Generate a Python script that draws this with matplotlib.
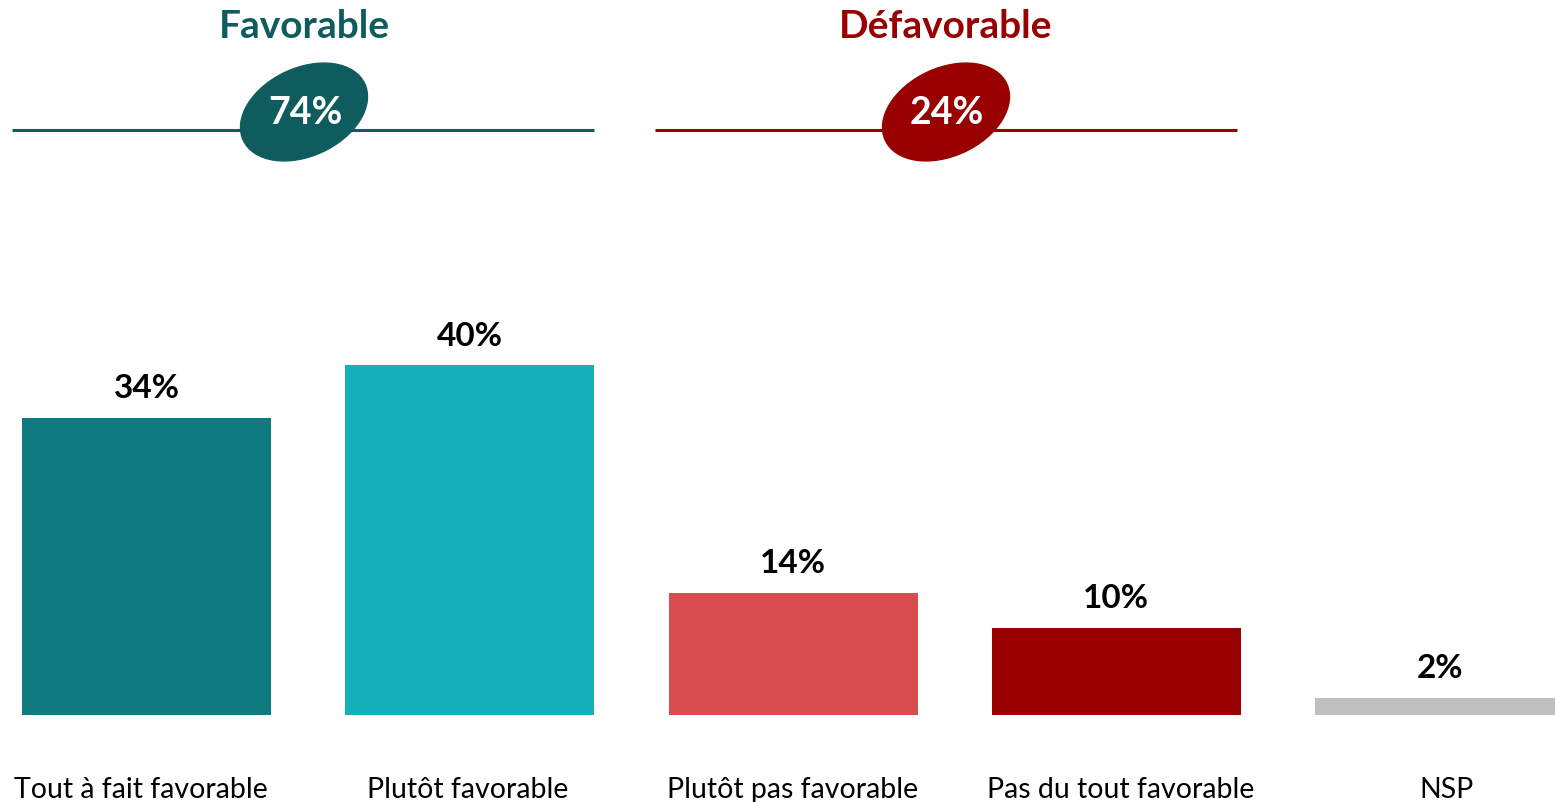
import matplotlib
matplotlib.use("Agg")
import matplotlib.pyplot as plt
from matplotlib.patches import Ellipse

# Data
categories = ["Tout à fait favorable", "Plutôt favorable", "Plutôt pas favorable",
              "Pas du tout favorable", "NSP"]
values = [34, 40, 14, 10, 2]
bar_colors = ["#0F7A80", "#14AFB8", "#D84D50", "#990000", "#BFBFBF"]

groups = ["Favorable", "Défavorable"]
group_members = [[0, 1], [2, 3]]
group_colors = ["#0E5C5E", "#990000"]

plt.rcParams['font.family'] = ['Lato', 'DejaVu Sans']

W, H = 1555, 803
fig = plt.figure(figsize=(W / 100, H / 100), dpi=100)

# bar axes: full figure, scaled so bars land where they do in the original
ax = fig.add_axes([0, 0, 1, 1])
step = 323.25   # px between bar centres
first = 146.5   # px of first bar centre
ppu = 8.75      # px per percent
base = 716      # px of baseline
ax.set_xlim(-first / step, (W - first) / step)
ax.set_ylim(-(H - base) / ppu, base / ppu)
ax.axis("off")

x = list(range(len(values)))
ax.bar(x, values, width=249 / step, color=bar_colors)
for xi, v in zip(x, values):
    ax.annotate(f"{v}%", (xi, v), xytext=(0, 11), textcoords="offset points",
                ha="center", va="bottom", fontsize=24, fontweight="bold", color="black")
label_dx = [-6, -2, 0, 4, 7]
for xi, c, dx in zip(x, categories, label_dx):
    ax.annotate(c, (xi, -(790 - base) / ppu), xytext=(dx * 0.72, 0), textcoords="offset points",
                ha="center", va="center", fontsize=20.5, color="black")

# decoration layer in pixel coordinates
deco = fig.add_axes([0, 0, 1, 1], facecolor="none")
deco.set_xlim(0, W)
deco.set_ylim(H, 0)
deco.axis("off")

spans = [(12, 594), (655, 1237)]
for name, members, col, (x0, x1) in zip(groups, group_members, group_colors, spans):
    total = sum(values[i] for i in members)
    cx = (x0 + x1) / 2 + 1 if name == "Favorable" else (x0 + x1) / 2
    deco.plot([x0, x1], [131, 131], color=col, lw=2.2, solid_capstyle="butt")
    deco.add_patch(Ellipse((cx, 113), 134, 88, angle=-25, color=col, zorder=3))
    deco.text(cx + 1, 113, f"{total}%", ha="center", va="center", fontsize=27,
              fontweight="bold", color="white", zorder=4)
    deco.text(cx, 27, name, ha="center", va="center", fontsize=28,
              fontweight="bold", color=col)

fig.savefig("out.png", dpi=100)
